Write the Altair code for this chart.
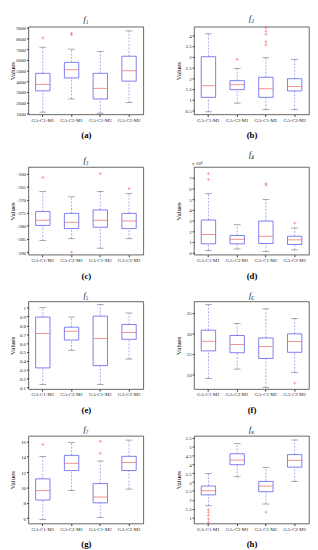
import altair as alt
import pandas as pd

GROUPS = ["GA-C1-M1", "GA-C2-M1", "GA-C1-M2", "GA-C2-M2"]

# f1
F1_LOW = [1100, 2330, 1000, 2000]
F1_Q1 = [3090, 4300, 2330, 4000]
F1_MED = [3700, 5060, 3330, 4970]
F1_Q3 = [4730, 5760, 4730, 6330]
F1_HIGH = [7180, 7000, 6800, 8700]
F1_OUT = [[8050], [8350, 8500], [], []]
F1_TICKS = [1000, 2000, 3000, 4000, 5000, 6000, 7000, 8000, 9000]

# f2
F2_LOW = [0.42, 0.83, 0.52, 0.52]
F2_Q1 = [1.1, 1.46, 1.1, 1.4]
F2_MED = [1.64, 1.69, 1.5, 1.6]
F2_Q3 = [3.0, 1.88, 2.04, 1.97]
F2_HIGH = [4.07, 2.45, 2.95, 2.87]
F2_OUT = [[], [2.87], [4.35, 4.2, 4.05, 3.7, 3.55], []]
F2_TICKS = [0.5, 1, 1.5, 2, 2.5, 3, 3.5, 4]

# f3
F3_LOW = [-385.5, -384.9, -388.5, -384.9]
F3_Q1 = [-379.8, -381.0, -380.5, -381.0]
F3_MED = [-377.8, -378.6, -377.8, -378.1]
F3_Q3 = [-374.5, -375.2, -373.9, -375.2]
F3_HIGH = [-366.8, -368.9, -366.8, -367.7]
F3_OUT = [[-361.5], [-390], [-360], [-365.7]]
F3_TICKS = [-390, -385, -380, -375, -370, -365, -360]

# f4 (x 10^4)
F4_LOW = [0.2, 0.34, 0.1, 0.25]
F4_Q1 = [0.82, 0.82, 0.85, 0.76]
F4_MED = [1.7, 1.25, 1.53, 1.19]
F4_Q3 = [3.05, 1.6, 2.95, 1.53]
F4_HIGH = [5.5, 2.6, 4.95, 2.3]
F4_OUT = [[6.85, 7.4], [], [6.3, 6.45], [2.75]]
F4_TICKS = [0, 1, 2, 3, 4, 5, 6, 7]

# f5
F5_LOW = [0.135, 0.52, 0.135, 0.42]
F5_Q1 = [0.32, 0.635, 0.346, 0.643]
F5_MED = [0.71, 0.735, 0.654, 0.72]
F5_Q3 = [0.894, 0.78, 0.905, 0.81]
F5_HIGH = [1.0, 0.894, 1.035, 0.94]
F5_OUT = [[], [], [], []]
F5_TICKS = [0.1, 0.2, 0.3, 0.4, 0.5, 0.6, 0.7, 0.8, 0.9, 1]

# f6
F6_LOW = [9.05, 11.3, 6.85, 10.5]
F6_Q1 = [15.75, 15.3, 13.9, 15.4]
F6_MED = [18.1, 17.3, 16.8, 18.0]
F6_Q3 = [20.8, 19.5, 18.9, 19.9]
F6_HIGH = [27.0, 22.4, 26.0, 23.7]
F6_OUT = [[], [], [], [7.9]]
F6_TICKS = [10, 15, 20, 25]

# f7
F7_LOW = [5.84, 9.58, 6.1, 9.79]
F7_Q1 = [8.36, 12.2, 8.0, 12.2]
F7_MED = [9.58, 13.15, 8.76, 13.24]
F7_Q3 = [11.12, 14.17, 10.5, 14.05]
F7_HIGH = [14.05, 15.88, 13.44, 16.16]
F7_OUT = [[15.6], [], [16.0, 14.45], []]
F7_TICKS = [6, 8, 10, 12, 14, 16]

# f8
F8_LOW = [1.66, 3.3, 1.76, 3.04]
F8_Q1 = [2.28, 3.99, 2.46, 3.85]
F8_MED = [2.51, 4.25, 2.78, 4.24]
F8_Q3 = [2.78, 4.61, 3.04, 4.56]
F8_HIGH = [3.49, 5.2, 3.84, 5.39]
F8_OUT = [[1.44, 1.3, 1.12, 0.91, 0.73], [], [1.3], []]
F8_TICKS = [1, 1.5, 2, 2.5, 3, 3.5, 4, 4.5, 5, 5.5]

BLUE = "#4646ee"
WHISK = "#6f6fe8"
RED = "#e8392f"
SERIF = "Liberation Serif"
W, H = 118, 90


def panel(letter, title, low, q1, med, q3, high, out, domain, ticks, exponent=None):
    df = pd.DataFrame({"g": GROUPS, "low": low, "q1": q1, "med": med,
                       "q3": q3, "high": high})
    rows = [(g, v) for g, vs in zip(GROUPS, out) for v in vs]
    odf = pd.DataFrame(rows, columns=["g", "v"])
    x = alt.X("g:N", sort=GROUPS,
              scale=alt.Scale(type="band", domain=GROUPS, paddingInner=0, paddingOuter=0),
              axis=alt.Axis(title=f"({letter})", labelAngle=0, labelFontSize=5,
                            labelFont=SERIF, labelOverlap=False, labelLimit=60,
                            tickSize=2, domain=False, titleFont=SERIF,
                            titleFontSize=9, titleFontWeight="bold",
                            titlePadding=9, labelPadding=1, titleColor="black",
                            labelColor="#222", tickColor="#333"))
    ysc = alt.Scale(domain=domain, nice=False, zero=False)
    yax = alt.Axis(title="Values", values=ticks, labelExpr="datum.value + ''",
                   labelOverlap=False, labelFlush=False, labelFontSize=5,
                   labelFont=SERIF, tickSize=2, domain=False, grid=False,
                   titleFont=SERIF, titleFontSize=7, titleFontWeight="normal",
                   titlePadding=1, minExtent=12, maxExtent=12, labelPadding=1,
                   titleColor="black", labelColor="#222", tickColor="#333")

    def Y(field):
        return alt.Y(field, scale=ysc, axis=yax)

    base = alt.Chart(df)
    whisk_hi = base.mark_rule(color=WHISK, strokeWidth=0.6, strokeDash=[2, 1.5]).encode(
        x=x, y=Y("q3:Q"), y2="high:Q")
    whisk_lo = base.mark_rule(color=WHISK, strokeWidth=0.6, strokeDash=[2, 1.5]).encode(
        x=x, y=Y("low:Q"), y2="q1:Q")
    cap_hi = base.mark_tick(orient="horizontal", size=7, thickness=0.6, color="#333").encode(
        x=x, y=Y("high:Q"))
    cap_lo = base.mark_tick(orient="horizontal", size=7, thickness=0.6, color="#333").encode(
        x=x, y=Y("low:Q"))
    box = base.mark_bar(width=alt.RelativeBandSize(0.5), fillOpacity=0, stroke=BLUE,
                        strokeWidth=0.7).encode(
        x=x, y=Y("q1:Q"), y2="q3:Q")
    med_t = base.mark_tick(orient="horizontal", size=14, thickness=0.8, color=RED).encode(
        x=x, y=Y("med:Q"))
    layers = [whisk_hi, whisk_lo, box, cap_hi, cap_lo, med_t]
    if len(odf):
        pts = alt.Chart(odf).mark_point(shape="M-1,0L1,0M0,-1L0,1", size=9, filled=False,
                                        stroke=RED, strokeWidth=0.6).encode(
            x=x, y=Y("v:Q"))
        layers.append(pts)
    if exponent:
        ex = alt.Chart(pd.DataFrame({"t": [exponent]})).mark_text(
            align="left", baseline="bottom", fontSize=5, font=SERIF, color="#222").encode(
            x=alt.value(-2), y=alt.value(-1), text="t:N")
        layers.append(ex)
    return alt.layer(*layers).properties(
        width=W, height=H,
        view=alt.ViewBackground(stroke="#222", strokeWidth=0.7),
        title=alt.TitleParams(text=title, font=SERIF, fontStyle="italic", fontSize=8,
                              fontWeight="normal", offset=2, color="black"))


pa = panel("a", "f₁", F1_LOW, F1_Q1, F1_MED, F1_Q3, F1_HIGH, F1_OUT, [880, 9090], F1_TICKS)
pb = panel("b", "f₂", F2_LOW, F2_Q1, F2_MED, F2_Q3, F2_HIGH, F2_OUT, [0.3, 4.4], F2_TICKS)
pc = panel("c", "f₃", F3_LOW, F3_Q1, F3_MED, F3_Q3, F3_HIGH, F3_OUT, [-391, -357.5], F3_TICKS)
pd_ = panel("d", "f₄", F4_LOW, F4_Q1, F4_MED, F4_Q3, F4_HIGH, F4_OUT, [-0.2, 8], F4_TICKS,
            exponent="x 10⁴")
pe = panel("e", "f₅", F5_LOW, F5_Q1, F5_MED, F5_Q3, F5_HIGH, F5_OUT, [0.08, 1.07], F5_TICKS)
pf = panel("f", "f₆", F6_LOW, F6_Q1, F6_MED, F6_Q3, F6_HIGH, F6_OUT, [6.4, 27.8], F6_TICKS)
pg = panel("g", "f₇", F7_LOW, F7_Q1, F7_MED, F7_Q3, F7_HIGH, F7_OUT, [5.3, 16.7], F7_TICKS)
ph = panel("h", "f₈", F8_LOW, F8_Q1, F8_MED, F8_Q3, F8_HIGH, F8_OUT, [0.65, 5.62], F8_TICKS)

chart = alt.vconcat(
    alt.hconcat(pa, pb, spacing=30),
    alt.hconcat(pc, pd_, spacing=30),
    alt.hconcat(pe, pf, spacing=30),
    alt.hconcat(pg, ph, spacing=30),
    spacing=10,
).properties(padding=0).configure_view(stroke="#222", strokeWidth=0.7)

chart.save("out.html", embed_options={"renderer": "svg", "actions": False})
